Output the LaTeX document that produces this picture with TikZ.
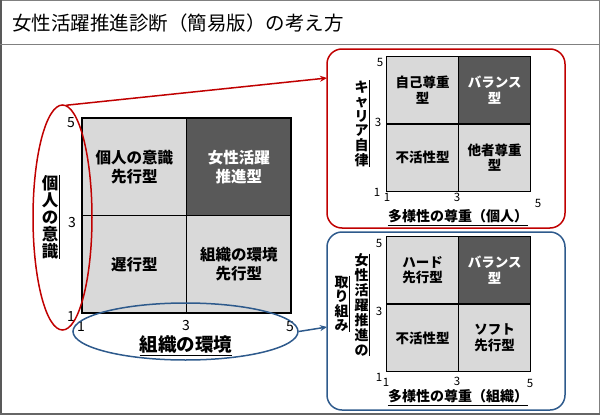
\documentclass[tikz,border=0pt]{standalone}
\usepackage{fontspec}
\setmainfont{Noto Sans CJK JP}
\usetikzlibrary{shapes.geometric,arrows.meta}
\definecolor{lgray}{HTML}{D9D9D9}
\definecolor{dgray}{HTML}{595959}
\definecolor{myred}{HTML}{C00000}
\definecolor{myblue}{HTML}{2E5A8C}
\definecolor{framegray}{HTML}{808080}
\tikzset{
  cellA/.style={draw=black, line width=1.5pt, fill=lgray, minimum width=104.5pt, minimum height=97.5pt, inner sep=0pt, align=center, font=\bfseries\fontsize{15.5}{19}\selectfont},
  cellAd/.style={cellA, fill=dgray, text=white},
  cellB/.style={draw=black, line width=1.3pt, fill=lgray, minimum width=72pt, minimum height=67.3pt, inner sep=0pt, align=center, font=\bfseries\fontsize{13.5}{15.5}\selectfont},
  cellBd/.style={cellB, fill=dgray, text=white},
  tickA/.style={inner sep=0pt, font=\fontsize{14}{14}\selectfont},
  tickB/.style={inner sep=0pt, font=\fontsize{11.5}{12}\selectfont},
  vlabA/.style={inner sep=0pt, align=center, font=\bfseries\fontsize{16.5}{17}\selectfont},
  vlabB/.style={inner sep=0pt, align=center, font=\bfseries\fontsize{14}{14.6}\selectfont},
  hlabA/.style={inner sep=0pt, anchor=base, font=\bfseries\fontsize{18.5}{19}\selectfont},
  hlabB/.style={inner sep=0pt, anchor=base, font=\bfseries\fontsize{14}{14}\selectfont},
  uline/.style={line width=1pt, black},
  ovalR/.style={ellipse, draw=myred, line width=1.5pt, inner sep=0pt},
  ovalB/.style={ellipse, draw=myblue, line width=1.5pt, inner sep=0pt},
  boxR/.style={draw=myred, line width=1.5pt, rounded corners=15pt, inner sep=0pt},
  boxB/.style={draw=myblue, line width=1.5pt, rounded corners=15pt, inner sep=0pt},
  arr/.style={line width=1.5pt, -{Stealth[length=7pt,width=6pt]}}
}
\begin{document}
\begin{tikzpicture}[x=1pt,y=-1pt]
\useasboundingbox (0,0) rectangle (600,415);
% frame and title
\draw[framegray, line width=1pt] (0.5,0.5) rectangle (599.2,414);
\draw[black!65, line width=2pt] (1,0) -- (1,415);
\draw[black!60, line width=2pt] (0,414) -- (600,414);
\draw[framegray, line width=1pt] (0,44) -- (600,44);
\node[anchor=west, inner sep=0pt, font=\fontsize{19.5}{20}\selectfont] (title) at (12,23) {女性活躍推進診断（簡易版）の考え方};

% main grid
\node[cellA] (a11) at (134.25,166.75) {個人の意識\\先行型};
\node[cellAd] (a12) at (238.75,166.75) {女性活躍\\推進型};
\node[cellA] (a21) at (134.25,264.25) {遅行型};
\node[cellA] (a22) at (238.75,264.25) {組織の環境\\先行型};
\node[tickA] (ay5) at (71,123) {5};
\node[tickA] (ay3) at (72,223) {3};
\node[tickA] (ay1) at (71,317) {1};
\node[tickA] (ax1) at (81,327) {1};
\node[tickA] (ax3) at (186,326) {3};
\node[tickA] (ax5) at (290,327) {5};
\node[vlabA] (ylabA) at (50,217) {個\\人\\の\\意\\識};
\draw[uline] ([xshift=0.8pt]ylabA.north east) -- ([xshift=0.8pt]ylabA.south east);
\node[hlabA] (xlabA) at (186,351) {組織の環境};
\draw[uline] ([yshift=-4.5pt]xlabA.base west) -- ([yshift=-4.5pt]xlabA.base east);

% ovals
\node[ovalR, minimum width=59pt, minimum height=225pt] (ellR) at (62.5,217.5) {};
\node[ovalB, minimum width=225pt, minimum height=57pt] (ellB) at (185.5,331.5) {};

% right boxes
\node[boxR, minimum width=238pt, minimum height=179pt] (bxR) at (446,138.5) {};
\node[boxB, minimum width=238pt, minimum height=178pt] (bxB) at (446,321) {};
\coordinate (tipR) at (327,78);
\coordinate (tipB) at (327,327);
\draw[arr, myred] (ellR.88) -- (tipR);
\draw[arr, myblue] (ellB.east) -- (tipB);

% top small grid
\node[cellB] (b11) at (422.7,90.3) {自己尊重\\型};
\node[cellBd] (b12) at (494.7,90.3) {バランス\\型};
\node[cellB] (b21) at (422.7,157.6) {不活性型};
\node[cellB] (b22) at (494.7,157.6) {他者尊重\\型};
\node[tickB] (by5) at (380,62) {5};
\node[tickB] (by3) at (378,122) {3};
\node[tickB] (by1) at (377,192) {1};
\node[tickB] (bx1) at (387,197) {1};
\node[tickB] (bx3) at (457,197) {3};
\node[tickB] (bx5) at (538,203) {5};
\node[vlabB] (ylabB) at (361.5,123.5) {キ\\ャ\\リ\\ア\\自\\律};
\draw[uline] ([xshift=0.8pt]ylabB.north east) -- ([xshift=0.8pt]ylabB.south east);
\node[hlabB] (xlabB) at (458,221) {多様性の尊重（個人）};
\draw[uline] ([yshift=-4pt]xlabB.base west) -- ([yshift=-4pt]xlabB.base east);

% bottom small grid
\node[cellB] (c11) at (422.7,270.4) {ハード\\先行型};
\node[cellBd] (c12) at (494.7,270.4) {バランス\\型};
\node[cellB] (c21) at (422.7,337.9) {不活性型};
\node[cellB] (c22) at (494.7,337.9) {ソフト\\先行型};
\node[tickB] (cy5) at (379,243) {5};
\node[tickB] (cy3) at (379,311) {3};
\node[tickB] (cy1) at (379,377) {1};
\node[tickB] (cx1) at (386,382) {1};
\node[tickB] (cx3) at (457,381) {3};
\node[tickB] (cx5) at (530,383) {5};
\node[vlabB, font=\bfseries\fontsize{14}{14.9}\selectfont] (ylabC) at (361.5,305) {女\\性\\活\\躍\\推\\進\\の};
\draw[uline] ([xshift=0.8pt]ylabC.north east) -- ([xshift=0.8pt]ylabC.south east);
\node[vlabB] (ylabD) at (341.5,304) {取\\り\\組\\み};
\draw[uline] ([xshift=0.8pt]ylabD.north east) -- ([xshift=0.8pt]ylabD.south east);
\node[hlabB] (xlabC) at (458,401) {多様性の尊重（組織）};
\draw[uline] ([yshift=-4pt]xlabC.base west) -- ([yshift=-4pt]xlabC.base east);
\end{tikzpicture}
\end{document}
